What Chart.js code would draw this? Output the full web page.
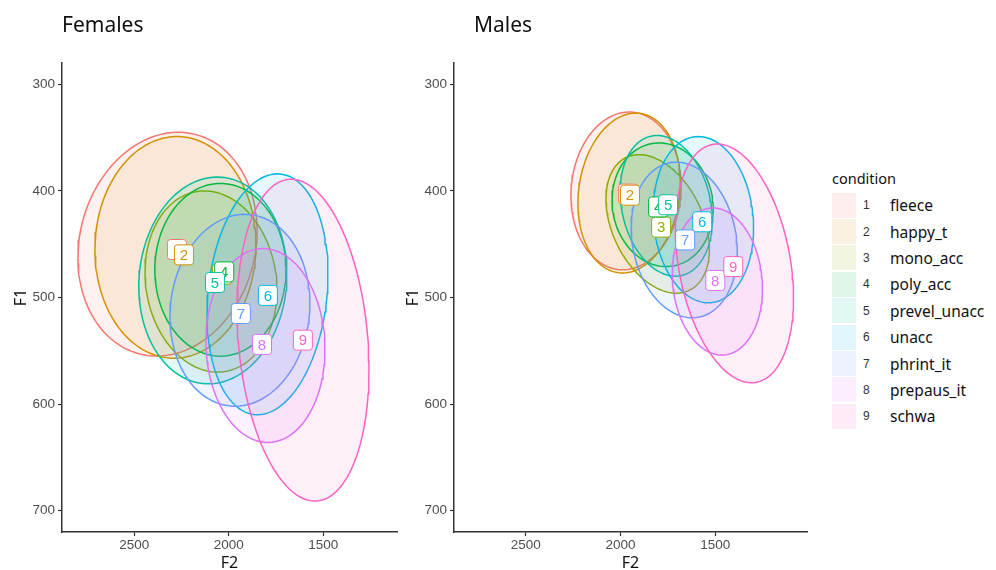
<!DOCTYPE html>
<html>
<head>
<meta charset="utf-8">
<script src="https://cdn.jsdelivr.net/npm/chart.js@4.4.1/dist/chart.umd.min.js"></script>
<style>
  body { margin: 0; background: #fff; width: 996px; height: 570px; position: relative; overflow: hidden; font-family: "Noto Sans", sans-serif; }
  .panel { position: absolute; top: 0; height: 570px; }
  .ttl { position: absolute; top: 14px; font-size: 21px; line-height: 21px; color: #111; }
  #legend { position: absolute; left: 832px; top: 166px; color: #111; }
  #legend .head { font-size: 14.5px; height: 26px; line-height: 24px; }
  #legend .row { display: flex; align-items: center; height: 26.4px; }
  #legend .sw { width: 24px; height: 25px; margin-right: 7px; }
  #legend .num { width: 20px; font-size: 12px; color: #333; font-family: "Liberation Sans", sans-serif; }
  #legend .lab { font-size: 15.5px; margin-left: 7px; }
</style>
</head>
<body>
<div class="panel" style="left:0;width:410px"><canvas id="females" width="410" height="570"></canvas></div>
<div class="panel" style="left:392px;width:420px"><canvas id="males" width="420" height="570"></canvas></div>
<div class="ttl" style="left:62px">Females</div>
<div class="ttl" style="left:474px">Males</div>
<div id="legend"></div>

<script>
const conditions = ["fleece", "happy_t", "mono_acc", "poly_acc", "prevel_unacc", "unacc", "phrint_it", "prepaus_it", "schwa"]
const colors = ["#F8766D", "#D39200", "#93AA00", "#00BA38", "#00C19F", "#00B9E3", "#619CFF", "#DB72FB", "#FF61C3"]
const f2Ticks = [2500, 2000, 1500]
const f1Ticks = [300, 400, 500, 600, 700]

// females: ellipse centre, half extents, F2/F1 correlation, label position
const fCenterF2 = [2324, 2282, 2094, 2044, 2084, 1795, 1941, 1806, 1607]
const fCenterF1 = [450, 453, 485, 474, 484, 497, 512, 545, 540]
const fRadF2 = [474, 426, 349, 347, 392, 320, 370, 315, 349]
const fRadF1 = [105, 104, 85, 81, 97, 113, 90, 91, 151]
const fRho = [0.12, 0.02, -0.1, 0, 0.06, 0.165, 0.07, -0.04, -0.18]
const fLabelF2 = [2274, 2237, 2035, 2024, 2073, 1793, 1936, 1824, 1608]
const fLabelF1 = [455, 460, 478, 476, 486, 498, 515, 544, 540]

// males
const mCenterF2 = [1971, 1955, 1804, 1778, 1759, 1563, 1664, 1489, 1399]
const mCenterF1 = [400, 402, 431, 413, 414, 427, 446, 485, 468]
const mRadF2 = [291, 270, 273, 267, 243, 265, 280, 238, 312]
const mRadF1 = [74, 75, 65, 58, 66, 78, 73, 69, 112]
const mRho = [0.06, 0.13, -0.36, -0.07, -0.2, -0.1, -0.15, -0.1, -0.29]
const mLabelF2 = [1960, 1950, 1786, 1802, 1749, 1569, 1659, 1500, 1405]
const mLabelF1 = [403, 404, 434, 415, 413, 429, 446, 484, 471]

function alpha(hex, a) {
  const n = parseInt(hex.slice(1), 16)
  return `rgba(${n >> 16},${(n >> 8) & 255},${n & 255},${a})`
}

// trace the ellipse outline from its centre, half extents and correlation
function ellipsePts(cx, cy, rx, ry, rho) {
  const phi = Math.acos(rho)
  const pts = []
  for (let k = 0; k <= 120; k++) {
    const t = k / 120 * 2 * Math.PI
    pts.push({ x: cx + rx * Math.cos(t), y: cy + ry * Math.cos(t - phi) })
  }
  return pts
}

const labelPlugin = {
  id: "labels",
  afterDatasetsDraw(chart) {
    const { ctx, scales } = chart
    const lab = chart.options.plugins.labels
    ctx.save()
    ctx.font = '15px "Liberation Sans", sans-serif'
    ctx.textAlign = "center"
    ctx.textBaseline = "middle"
    lab.f2.forEach((v, i) => {
      const x = scales.x.getPixelForValue(v)
      const y = scales.y.getPixelForValue(lab.f1[i])
      ctx.beginPath()
      ctx.roundRect(x - 9.5, y - 10, 19, 20, 3)
      ctx.fillStyle = "#fff"
      ctx.fill()
      ctx.strokeStyle = colors[i]
      ctx.lineWidth = 1
      ctx.stroke()
      ctx.fillStyle = colors[i]
      ctx.fillText(String(i + 1), x, y + 1)
    })
    ctx.restore()
  }
}

function panel(id, cF2, cF1, rF2, rF1, rho, lF2, lF1, xMin, xMax, padRight) {
  const datasets = conditions.map((c, i) => ({
    label: c,
    data: ellipsePts(cF2[i], cF1[i], rF2[i], rF1[i], rho[i]),
    showLine: true,
    pointRadius: 0,
    borderColor: colors[i],
    borderWidth: 1.5,
    backgroundColor: alpha(colors[i], 0.1),
    fill: "shape",
    tension: 0,
    order: 9 - i
  }))

  new Chart(document.getElementById(id), {
    type: "scatter",
    data: { datasets },
    options: {
      responsive: false,
      animation: false,
      events: [],
      layout: { padding: { left: 0, right: padRight, top: 63, bottom: 0 } },
      plugins: {
        legend: { display: false },
        tooltip: { enabled: false },
        labels: { f2: lF2, f1: lF1 }
      },
      scales: {
        x: {
          type: "linear",
          reverse: true,
          min: xMin,
          max: xMax,
          afterBuildTicks: s => { s.ticks = f2Ticks.map(v => ({ value: v })) },
          afterFit: s => { s.height = 38 },
          grid: { drawOnChartArea: false, tickLength: 4, color: "#333", tickWidth: 1.2 },
          border: { color: "#333", width: 1.5 },
          ticks: { color: "#4d4d4d", font: { size: 13.5, family: "Liberation Sans" }, padding: 1, callback: v => String(v) },
          title: { display: true, text: "F2", color: "#111", font: { size: 16, family: "Noto Sans", lineHeight: 0.85 }, padding: 0 }
        },
        y: {
          type: "linear",
          reverse: true,
          min: 280,
          max: 720,
          afterBuildTicks: s => { s.ticks = f1Ticks.map(v => ({ value: v })) },
          afterFit: s => { s.width = 62 },
          grid: { drawOnChartArea: false, tickLength: 4, color: "#333", tickWidth: 1.2 },
          border: { color: "#333", width: 1.5 },
          ticks: { color: "#4d4d4d", font: { size: 13.5, family: "Liberation Sans" }, padding: 3, callback: v => String(v) },
          title: { display: true, text: "F1", color: "#111", font: { size: 16, family: "Noto Sans" }, padding: { top: 12, bottom: 0 } }
        }
      }
    },
    plugins: [labelPlugin]
  })
}

panel("females", fCenterF2, fCenterF1, fRadF2, fRadF1, fRho, fLabelF2, fLabelF1, 1110, 2882, 13)
panel("males", mCenterF2, mCenterF1, mRadF2, mRadF1, mRho, mLabelF2, mLabelF1, 1016, 2879, 5)

const legend = document.getElementById("legend")
legend.innerHTML = `<div class="head">condition</div>` + conditions.map((c, i) => `
  <div class="row">
    <div class="sw" style="background:${alpha(colors[i], 0.12)}"></div>
    <div class="num">${i + 1}</div>
    <div class="lab">${c}</div>
  </div>`).join("")
</script>
</body>
</html>
